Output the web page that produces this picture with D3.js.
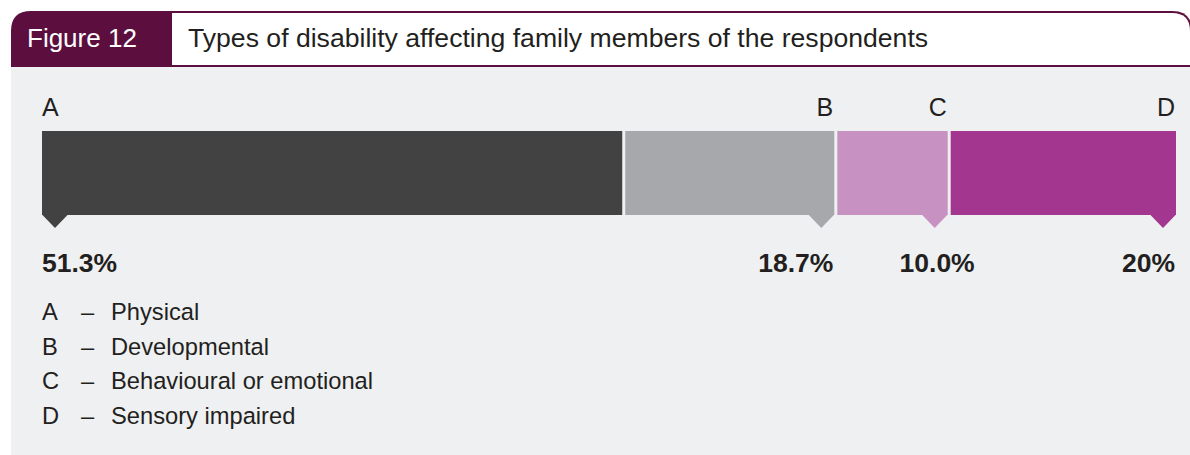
<!DOCTYPE html>
<html>
<head>
<meta charset="utf-8">
<script src="https://cdn.jsdelivr.net/npm/d3@7"></script>
<style>
  html, body { margin: 0; padding: 0; background: #ffffff; }
  svg { display: block; }
  text { font-family: "Liberation Sans", Arial, Helvetica, sans-serif; }
</style>
</head>
<body>
<svg id="chart" width="1190" height="455"></svg>
<script>
const figureLabel = "Figure 12";
const title = "Types of disability affecting family members of the respondents";
const categories = ["A", "B", "C", "D"];
const names = ["Physical", "Developmental", "Behavioural or emotional", "Sensory impaired"];
const values = [51.3, 18.7, 10.0, 20];
const valueLabels = ["51.3%", "18.7%", "10.0%", "20%"];
const colors = ["#424242", "#a7a8ab", "#c792c1", "#a3368f"];

const W = 1190, H = 455;
const svg = d3.select("#chart");
const purple = "#5c0f3e";

// background panel
svg.append("rect").attr("x", 11).attr("y", 66).attr("width", W - 11).attr("height", H - 66).attr("fill", "#eff0f2");

// header
const hx0 = 11, hy0 = 11, hy1 = 67, hx1 = 1192, r = 20;
svg.append("path")
  .attr("d", `M${hx0},${hy1} L${hx0},${hy0 + r} Q${hx0},${hy0} ${hx0 + r},${hy0} L${hx1 - r},${hy0} Q${hx1},${hy0} ${hx1},${hy0 + r} L${hx1},${hy1} Z`)
  .attr("fill", purple);
svg.append("path")
  .attr("d", `M172,${hy0 + 2} L${hx1 - r},${hy0 + 2} Q${hx1 - 2},${hy0 + 2} ${hx1 - 2},${hy0 + r} L${hx1 - 2},${hy1 - 2} L172,${hy1 - 2} Z`)
  .attr("fill", "#ffffff");
svg.append("text").attr("x", 27).attr("y", 47).attr("fill", "#ffffff")
  .attr("font-size", 26).text(figureLabel);
svg.append("text").attr("x", 188).attr("y", 47).attr("fill", "#231f20")
  .attr("font-size", 26.6).text(title);

// stacked bar
const x = d3.scaleLinear().domain([0, d3.sum(values)]).range([42, 1176]);
const y0 = 131, y1 = 215, gap = 1.5, triW = 26, triH = 13;
let cum = 0;
const segs = values.map((v, i) => {
  const s = { i, start: cum, end: cum + v };
  cum += v;
  return s;
});
segs.forEach(s => {
  s.x0 = s.i === 0 ? x(s.start) : x(s.start) + gap;
  s.x1 = s.i === segs.length - 1 ? x(s.end) : x(s.end) - gap;
});

const g = svg.append("g");
g.selectAll("rect.seg").data(segs).join("rect")
  .attr("class", "seg")
  .attr("x", d => d.x0).attr("y", y0)
  .attr("width", d => d.x1 - d.x0).attr("height", y1 - y0)
  .attr("fill", d => colors[d.i]);

// pointer triangles
g.selectAll("path.tri").data(segs).join("path")
  .attr("class", "tri")
  .attr("fill", d => colors[d.i])
  .attr("d", d => {
    const a = d.i === 0 ? d.x0 : d.x1 - triW;
    return `M${a},${y1 - 0.5} L${a + triW},${y1 - 0.5} L${a + triW / 2},${y1 + triH} Z`;
  });

// category letters above
g.selectAll("text.cat").data(segs).join("text")
  .attr("class", "cat")
  .attr("x", d => d.i === 0 ? d.x0 : d.x1 - 1)
  .attr("y", 116)
  .attr("text-anchor", d => d.i === 0 ? "start" : "end")
  .attr("font-size", 25).attr("fill", "#231f20")
  .text(d => categories[d.i]);

// value labels below
g.selectAll("text.val").data(segs).join("text")
  .attr("class", "val")
  .attr("x", d => d.i === 0 ? d.x0 : (d.i === 2 ? d.x1 + 27 : d.x1 - 1))
  .attr("y", 272)
  .attr("text-anchor", d => d.i === 0 ? "start" : "end")
  .attr("font-size", 26.5).attr("font-weight", "bold").attr("fill", "#231f20")
  .text(d => valueLabels[d.i]);

// legend
const leg = svg.append("g");
const rowY = d3.scaleLinear().domain([0, 1]).range([320, 354.7]);
categories.forEach((c, i) => {
  const yy = rowY(i);
  leg.append("text").attr("x", 42).attr("y", yy).attr("font-size", 23.7).attr("fill", "#231f20").text(c);
  leg.append("text").attr("x", 81).attr("y", yy).attr("font-size", 23.7).attr("fill", "#231f20").text("–");
  leg.append("text").attr("x", 111).attr("y", yy).attr("font-size", 23.7).attr("fill", "#231f20").text(names[i]);
});
</script>
</body>
</html>
